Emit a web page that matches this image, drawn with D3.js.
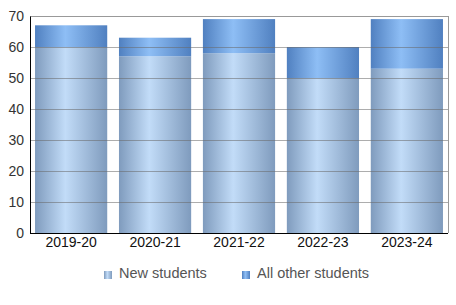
<!DOCTYPE html>
<html><head><meta charset="utf-8">
<script src="https://cdn.jsdelivr.net/npm/d3@7"></script>
<style>body{margin:0;background:#fff}svg{display:block;font-family:"Liberation Sans",Arial,sans-serif}</style>
</head><body><svg id="c" width="456" height="305"></svg>
<script>
const categories = ["2019-20","2020-21","2021-22","2022-23","2023-24"];
const newStudents = [60,57,58,50,53];
const otherStudents = [7,6,11,10,16];
const seriesNames = ["New students","All other students"];
const yTicks = [0,10,20,30,40,50,60,70];

const svg = d3.select("#c");
const m = {l:30,r:448,t:16,b:233};
const x = d3.scaleBand().domain(categories).range([m.l,m.r]).paddingInner(0.14).paddingOuter(0.06);
const y = d3.scaleLinear().domain([0,70]).range([m.b,m.t]);

const defs = svg.append("defs");
function grad(id, edge, mid){
  const g = defs.append("linearGradient").attr("id",id).attr("x1","0").attr("x2","1").attr("y1","0").attr("y2","0");
  g.append("stop").attr("offset","0").attr("stop-color",edge);
  g.append("stop").attr("offset","0.42").attr("stop-color",mid);
  g.append("stop").attr("offset","1").attr("stop-color",edge);
}
grad("gNew","#7f9bbd","#c2dcf8");
grad("gOth","#5080c0","#8ebef5");

svg.append("line").attr("x1",m.l).attr("x2",m.r).attr("y1",m.t+0.5).attr("y2",m.t+0.5).attr("stroke","#999");
svg.append("line").attr("x1",m.r+0.5).attr("x2",m.r+0.5).attr("y1",m.t).attr("y2",m.b).attr("stroke","#999");

const stack = categories.map((c,i)=>({c, n:newStudents[i], o:otherStudents[i]}));
svg.selectAll(".bn").data(stack).join("rect")
  .attr("x",d=>x(d.c)).attr("width",x.bandwidth())
  .attr("y",d=>y(d.n)).attr("height",d=>y(0)-y(d.n)).attr("fill","url(#gNew)");
svg.selectAll(".bo").data(stack).join("rect")
  .attr("x",d=>x(d.c)).attr("width",x.bandwidth())
  .attr("y",d=>y(d.n+d.o)).attr("height",d=>y(d.n)-y(d.n+d.o)).attr("fill","url(#gOth)");

svg.selectAll(".grid").data(yTicks.filter(t=>t>0&&t<70)).join("line")
  .attr("x1",m.l).attr("x2",m.r).attr("y1",d=>Math.round(y(d))+0.5).attr("y2",d=>Math.round(y(d))+0.5)
  .attr("stroke","#6a6a6a").attr("stroke-opacity",0.55);

const ya = svg.append("g").attr("transform",`translate(${m.l},0)`)
  .call(d3.axisLeft(y).tickValues(yTicks).tickSize(0).tickPadding(6));
ya.select(".domain").attr("stroke","#000");
ya.selectAll("text").attr("font-size",14).attr("fill","#333").attr("font-family","Liberation Sans, Arial, sans-serif");
const xa = svg.append("g").attr("transform",`translate(0,${m.b})`)
  .call(d3.axisBottom(x).tickSize(0).tickPadding(4));
xa.select(".domain").attr("stroke","#000").attr("d",`M${m.l},0.5H${m.r}`);
xa.selectAll("text").attr("font-size",14).attr("fill","#111").attr("font-family","Liberation Sans, Arial, sans-serif");

const leg = [{name:seriesNames[0],g:"url(#gNew)",x:104},{name:seriesNames[1],g:"url(#gOth)",x:242}];
const lg = svg.selectAll(".lg").data(leg).join("g").attr("transform",d=>`translate(${d.x},0)`);
lg.append("rect").attr("x",0).attr("y",271).attr("width",8).attr("height",8).attr("fill",d=>d.g);
lg.append("text").attr("x",15).attr("y",278).attr("font-size",14.5).attr("fill","#555").text(d=>d.name);
</script></body></html>
